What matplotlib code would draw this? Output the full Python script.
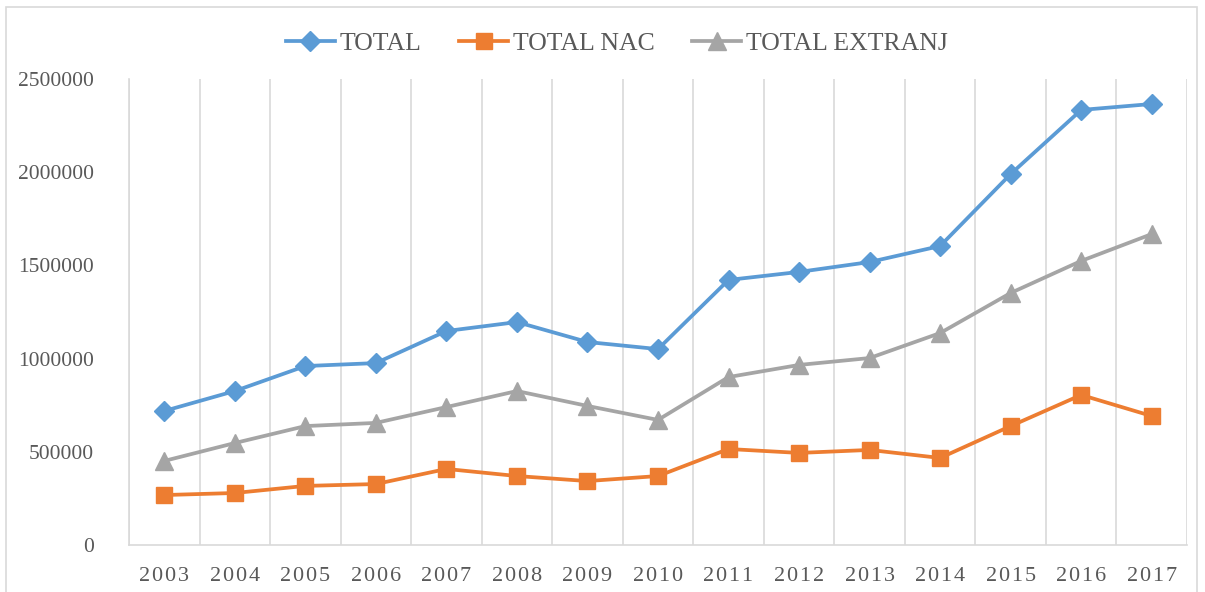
import numpy as np
import matplotlib.pyplot as plt
from matplotlib.patches import Rectangle

years = ['2003', '2004', '2005', '2006', '2007', '2008', '2009', '2010',
         '2011', '2012', '2013', '2014', '2015', '2016', '2017']
total = [719000, 826000, 960000, 976000, 1148000, 1196000, 1089000, 1051000,
         1422000, 1465000, 1518000, 1604000, 1990000, 2334000, 2366000]
total_nac = [268000, 279000, 317000, 327000, 408000, 370000, 343000, 370000,
             515000, 494000, 510000, 467000, 638000, 805000, 692000]
total_extranj = [451000, 547000, 638000, 655000, 740000, 826000, 746000, 671000,
                 901000, 966000, 1003000, 1137000, 1352000, 1524000, 1668000]

plt.rcParams['font.family'] = ['Liberation Serif', 'DejaVu Serif']
txt = '#595959'
grid = '#D9D9D9'

fig = plt.figure(figsize=(12.05, 5.92), dpi=100)
fig.patches.append(Rectangle((6/1205, -0.01), 1191/1205, 1 - 7/592 + 0.01,
                             transform=fig.transFigure, fill=False,
                             edgecolor=grid, lw=1.2))
ax = fig.add_axes([129/1205, 47/592, 1058/1205, 466/592])

x = np.arange(len(years))
ax.plot(x, total, color='#5B9BD5', lw=2.7, marker='D', ms=10, label='TOTAL')
ax.plot(x, total_nac, color='#ED7D31', lw=2.7, marker='s', ms=11.5, label='TOTAL NAC')
ax.plot(x, total_extranj, color='#A5A5A5', lw=2.7, marker='^', ms=13, label='TOTAL EXTRANJ')

ax.set_xlim(-0.5, len(years) - 0.5)
ax.set_ylim(0, 2500000)
ax.set_yticks(np.arange(0, 2500001, 500000))
ax.set_yticklabels([str(v) for v in range(0, 2500001, 500000)])
ax.set_xticks(x)
# spaced-out year labels like the original
ax.set_xticklabels(['\u200a'.join(y) for y in years])
ax.set_xticks(np.arange(-0.5, len(years)), minor=True)
ax.grid(True, axis='x', which='minor', color=grid, lw=1.2)
ax.set_axisbelow(True)
ax.tick_params(axis='y', which='both', length=0, colors=txt, labelsize=15.5, pad=25)
ax.tick_params(axis='x', which='both', length=0, colors=txt, labelsize=16, pad=16)
for s in ['top', 'right']:
    ax.spines[s].set_visible(False)
for s in ['left', 'bottom']:
    ax.spines[s].set_color(grid)
    ax.spines[s].set_linewidth(1.2)

fig.legend(loc='center', bbox_to_anchor=(617/1205, 1 - 44/592), ncol=3,
           frameon=False, fontsize=18.5, labelcolor=txt, handlelength=1.9,
           handletextpad=0.2, columnspacing=1.45)

fig.savefig('out.png', dpi=100)
